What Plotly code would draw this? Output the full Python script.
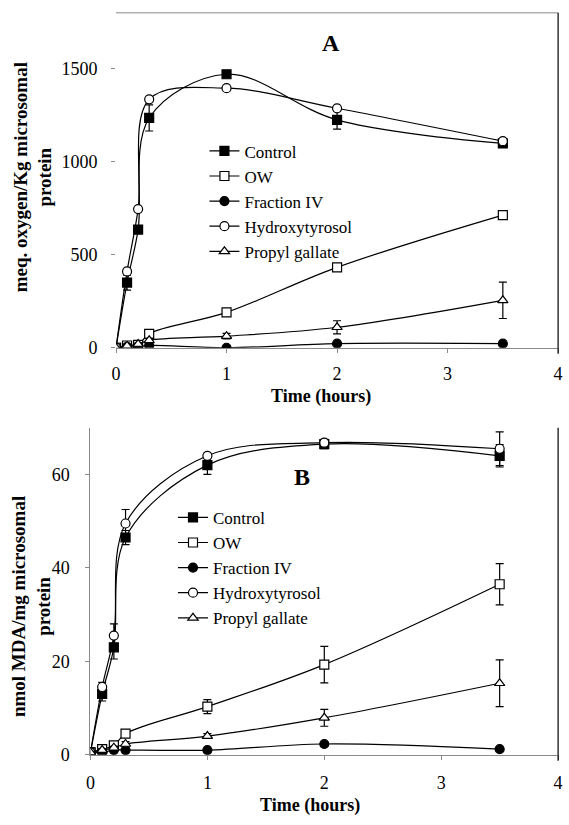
import plotly.graph_objects as go

# ---------------- data ----------------
time = [0, 0.1, 0.2, 0.3, 1, 2, 3.5]
series_names = ["Control", "OW", "Fraction IV", "Hydroxytyrosol", "Propyl gallate"]
x_ticks = [0, 1, 2, 3, 4]
a_y_ticks = [0, 500, 1000, 1500]
b_y_ticks = [0, 20, 40, 60]

# Panel A: meq. oxygen/Kg microsomal protein
a_control = [0, 350, 635, 1235, 1470, 1225, 1098]
a_control_err = [0, 40, 15, 70, 15, 50, 10]
a_ow = [0, 12, 15, 75, 190, 432, 713]
a_ow_err = [0, 5, 5, 8, 10, 12, 20]
a_fraction = [0, 5, 5, 12, 0, 22, 22]
a_fraction_err = [0, 0, 0, 0, 0, 0, 0]
a_hydroxy = [0, 410, 745, 1335, 1395, 1287, 1110]
a_hydroxy_err = [0, 10, 10, 10, 5, 10, 10]
a_propyl = [0, 10, 20, 40, 62, 110, 255]
a_propyl_err = [0, 5, 5, 10, 15, 35, 98]

# Panel B: nmol MDA/mg microsomal protein
b_control = [0.5, 13, 23, 46.5, 62, 66.5, 64]
b_control_err = [0.3, 1.5, 2.5, 1.5, 2, 1, 2.4]
b_ow = [0.5, 1.2, 2, 4.5, 10.3, 19.3, 36.5]
b_ow_err = [0.2, 0.3, 0.5, 0.7, 1.5, 3.9, 4.4]
b_fraction = [0.5, 0.5, 1, 1, 1, 2.3, 1.2]
b_fraction_err = [0, 0, 0, 0, 0, 0, 0]
b_hydroxy = [0.5, 14.5, 25.5, 49.5, 64, 66.8, 65.5]
b_hydroxy_err = [0.3, 1, 2.5, 3, 0.5, 0.5, 3.6]
b_propyl = [0.5, 1, 1.5, 2.3, 4, 7.9, 15.3]
b_propyl_err = [0.2, 0.3, 0.3, 0.5, 0.5, 1.8, 5]

# ---------------- styling ----------------
W, H = 569, 825
FONT = "Liberation Serif"
GRAY = "#8a8a8a"

def px_x(p):
    return p / W

def px_y(p):
    return 1 - p / H

marker_styles = {
    "Control": dict(symbol="square", color="black"),
    "OW": dict(symbol="square", color="white"),
    "Fraction IV": dict(symbol="circle", color="black"),
    "Hydroxytyrosol": dict(symbol="circle", color="white"),
    "Propyl gallate": dict(symbol="triangle-up", color="white"),
}

fig = go.Figure()

panel_a = [a_control, a_ow, a_fraction, a_hydroxy, a_propyl]
panel_a_err = [a_control_err, a_ow_err, a_fraction_err, a_hydroxy_err, a_propyl_err]
panel_b = [b_control, b_ow, b_fraction, b_hydroxy, b_propyl]
panel_b_err = [b_control_err, b_ow_err, b_fraction_err, b_hydroxy_err, b_propyl_err]

for panel, errs, xa, ya, leg in [
    (panel_a, panel_a_err, "x", "y", "legend"),
    (panel_b, panel_b_err, "x2", "y2", "legend2"),
]:
    for name, vals, err in zip(series_names, panel, errs):
        ms = marker_styles[name]
        fig.add_trace(go.Scatter(
            x=time, y=vals, name=name, mode="lines+markers",
            xaxis=xa, yaxis=ya, legend=leg,
            line=dict(color="black", width=1.2, shape="spline", smoothing=1.0),
            marker=dict(symbol=ms["symbol"], color=ms["color"], size=9,
                        line=dict(color="black", width=1.2)),
            error_y=dict(type="data", array=err, visible=True,
                         color="black", thickness=1.2, width=4),
        ))

axis_common = dict(
    showgrid=False, zeroline=False, ticks="outside", ticklen=4,
    tickcolor=GRAY, tickwidth=1,
    tickfont=dict(family=FONT, size=18, color="black"),
)

fig.update_layout(
    width=W, height=H, autosize=False,
    margin=dict(l=0, r=0, t=0, b=0),
    paper_bgcolor="white", plot_bgcolor="white",
    font=dict(family=FONT, color="black"),
    xaxis=dict(domain=[px_x(113), px_x(563)], range=[0, 4], tickvals=x_ticks,
               showline=True, linecolor=GRAY, linewidth=1, anchor="y",
               ticklabelstandoff=6, **axis_common),
    yaxis=dict(domain=[px_y(352), px_y(13)], range=[0, 1800], tickvals=a_y_ticks,
               showline=False, anchor="x", ticklabelstandoff=10, **axis_common),
    xaxis2=dict(domain=[px_x(87), px_x(563)], range=[0, 4], tickvals=x_ticks,
                showline=True, linecolor=GRAY, linewidth=1, anchor="y2",
                ticklabelstandoff=8, **axis_common),
    yaxis2=dict(domain=[px_y(764), px_y(433)], range=[0, 70], tickvals=b_y_ticks,
                showline=True, linecolor=GRAY, linewidth=1, anchor="x2",
                ticklabelstandoff=12, **axis_common),
    legend=dict(x=px_x(203), y=px_y(135), xanchor="left", yanchor="top",
                bgcolor="rgba(0,0,0,0)", font=dict(family=FONT, size=17, color="black"),
                itemwidth=30, tracegroupgap=0),
    legend2=dict(x=px_x(171), y=px_y(506), xanchor="left", yanchor="top",
                 bgcolor="rgba(0,0,0,0)", font=dict(family=FONT, size=17, color="black"),
                 itemwidth=30, tracegroupgap=0),
    showlegend=True,
)

annotations = [
    dict(text="<b>meq. oxygen/Kg microsomal<br>protein</b>", x=px_x(28), y=px_y(180),
         textangle=-90, font=dict(family=FONT, size=19)),
    dict(text="<b>nmol MDA/mg microsomal<br>protein</b>", x=px_x(26), y=px_y(614),
         textangle=-90, font=dict(family=FONT, size=19)),
    dict(text="<b>Time (hours)</b>", x=px_x(322), y=px_y(401),
         font=dict(family=FONT, size=18)),
    dict(text="<b>Time (hours)</b>", x=px_x(310), y=px_y(815),
         font=dict(family=FONT, size=18)),
    dict(text="<b>A</b>", x=px_x(332), y=px_y(44), font=dict(family=FONT, size=24)),
    dict(text="<b>B</b>", x=px_x(302), y=px_y(483), font=dict(family=FONT, size=24)),
]
for a in annotations:
    a.update(xref="paper", yref="paper", showarrow=False,
             xanchor="center", yanchor="middle")
fig.update_layout(annotations=annotations)

shapes = [
    dict(type="line", x0=px_x(113), x1=px_x(563), y0=px_y(13), y1=px_y(13),
         line=dict(color=GRAY, width=1)),
    dict(type="line", x0=px_x(563), x1=px_x(563), y0=px_y(13), y1=px_y(358),
         line=dict(color="black", width=1.2)),
    dict(type="line", x0=px_x(563), x1=px_x(563), y0=px_y(433), y1=px_y(770),
         line=dict(color="black", width=1.2)),
]
for s in shapes:
    s.update(xref="paper", yref="paper")
fig.update_layout(shapes=shapes)

fig.write_html("out.html")
